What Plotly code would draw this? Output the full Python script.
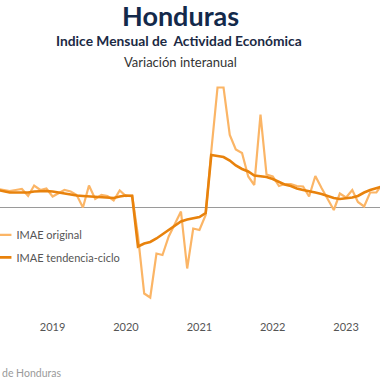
import plotly.graph_objects as go

# Monthly dates, April 2018 .. October 2023
months = [f"{2018 + (i + 3) // 12}-{(i + 3) % 12 + 1:02d}-01" for i in range(64)]

imae_original = [
    3.7, 3.5, 3.3, 3.5, 3.7, 2.3, 4.4, 3.5, 3.8,            # Apr-Dec 2018
    2.2, 2.9, 3.5, 3.2, 2.5, 0.0, 4.4, 1.7, 2.5, 2.3, 1.4, 3.4,  # 2019
    2.3, 2.4, -5.7, -17.2, -18.0, -9.2, -9.5, -5.8, -3.2, -0.8, -12.2, -4.2,  # 2020
    -4.5, -1.5, 11.3, 24.0, 24.0, 14.5, 11.6, 10.9, 6.2, 4.5, 18.6, 6.6,  # 2021
    6.2, 4.3, 4.7, 4.7, 4.3, 4.2, 2.2, 6.3, 3.9, 1.8, -0.5, 2.8,  # 2022
    2.0, 3.5, 1.1, 0.2, 3.0, 3.0, 4.7,  # 2023
]

imae_tendencia = [
    3.5, 3.3, 3.0, 3.0, 3.0, 3.0, 3.2, 3.3, 3.3,
    3.2, 3.0, 2.8, 2.5, 2.4, 2.3, 2.2, 2.1, 2.0, 1.9, 1.9, 2.2,
    2.4, 2.3, -7.8, -7.2, -6.9, -6.2, -5.4, -4.6, -3.6, -2.8, -2.4, -2.1,
    -1.9, -1.1, 10.5, 10.3, 10.1, 9.4, 8.4, 7.7, 7.2, 6.4, 6.2, 6.1,
    5.7, 5.1, 4.6, 4.3, 3.8, 3.5, 3.3, 3.0, 2.7, 2.3, 1.9, 1.7,
    1.8, 2.0, 2.3, 3.0, 3.5, 3.8, 4.2,
]

year_ticks = ["2019-01-01", "2020-01-01", "2021-01-01", "2022-01-01", "2023-01-01"]
year_labels = ["2019", "2020", "2021", "2022", "2023"]

FONT = "Lato"
W, H, T, B = 380, 380, 80, 68

fig = go.Figure()
fig.add_trace(go.Scatter(
    x=months, y=imae_original, mode="lines", name="IMAE original",
    legendgroup="a", line=dict(color="#FBB566", width=2.2),
))
fig.add_trace(go.Scatter(
    x=months, y=imae_tendencia, mode="lines", name="IMAE tendencia-ciclo",
    legendgroup="b", line=dict(color="#E8820C", width=2.6),
))


def header(text, px, py, size, color, anchor="center", yanchor="middle"):
    return dict(text=text, xref="paper", yref="paper",
                x=px / W, y=1 - (py - T) / (H - T - B),
                xanchor=anchor, yanchor=yanchor, showarrow=False,
                font=dict(family=FONT, size=size, color=color))


fig.update_layout(
    width=W, height=H,
    margin=dict(l=0, r=0, t=T, b=B, autoexpand=False),
    paper_bgcolor="white", plot_bgcolor="white",
    font=dict(family=FONT, color="#444444"),
    showlegend=True,
    legend=dict(
        x=-0.062, y=0.395, xanchor="left", yanchor="top",
        bgcolor="rgba(0,0,0,0)",
        font=dict(family=FONT, size=11, color="#555555"),
        tracegroupgap=3.5,
    ),
    xaxis=dict(
        type="date",
        range=["2018-04-14", "2023-06-19"],
        tickvals=year_ticks, ticktext=year_labels,
        showgrid=False, zeroline=False, showline=False, ticks="",
        ticklabelstandoff=7,
        tickfont=dict(family=FONT, size=11, color="#555555"),
    ),
    yaxis=dict(
        range=[-20.9, 25.5],
        showgrid=False, showticklabels=False, showline=False, ticks="",
        zeroline=True, zerolinecolor="#9A9A9A", zerolinewidth=1.2,
    ),
    annotations=[
        header("<b>Honduras</b>", 180, 16, 27, "#13294B"),
        header("<b>Indice Mensual de  Actividad Económica</b>", 179, 41, 13.8, "#1B2A44"),
        header("Variación interanual", 180, 62, 13, "#333333"),
        header("de Honduras", 0, 381, 10.5, "#9A9A9A", anchor="left", yanchor="bottom"),
    ],
)

fig.write_html("out.html", config={"displayModeBar": False},
               post_script="document.body.style.margin='0';")
